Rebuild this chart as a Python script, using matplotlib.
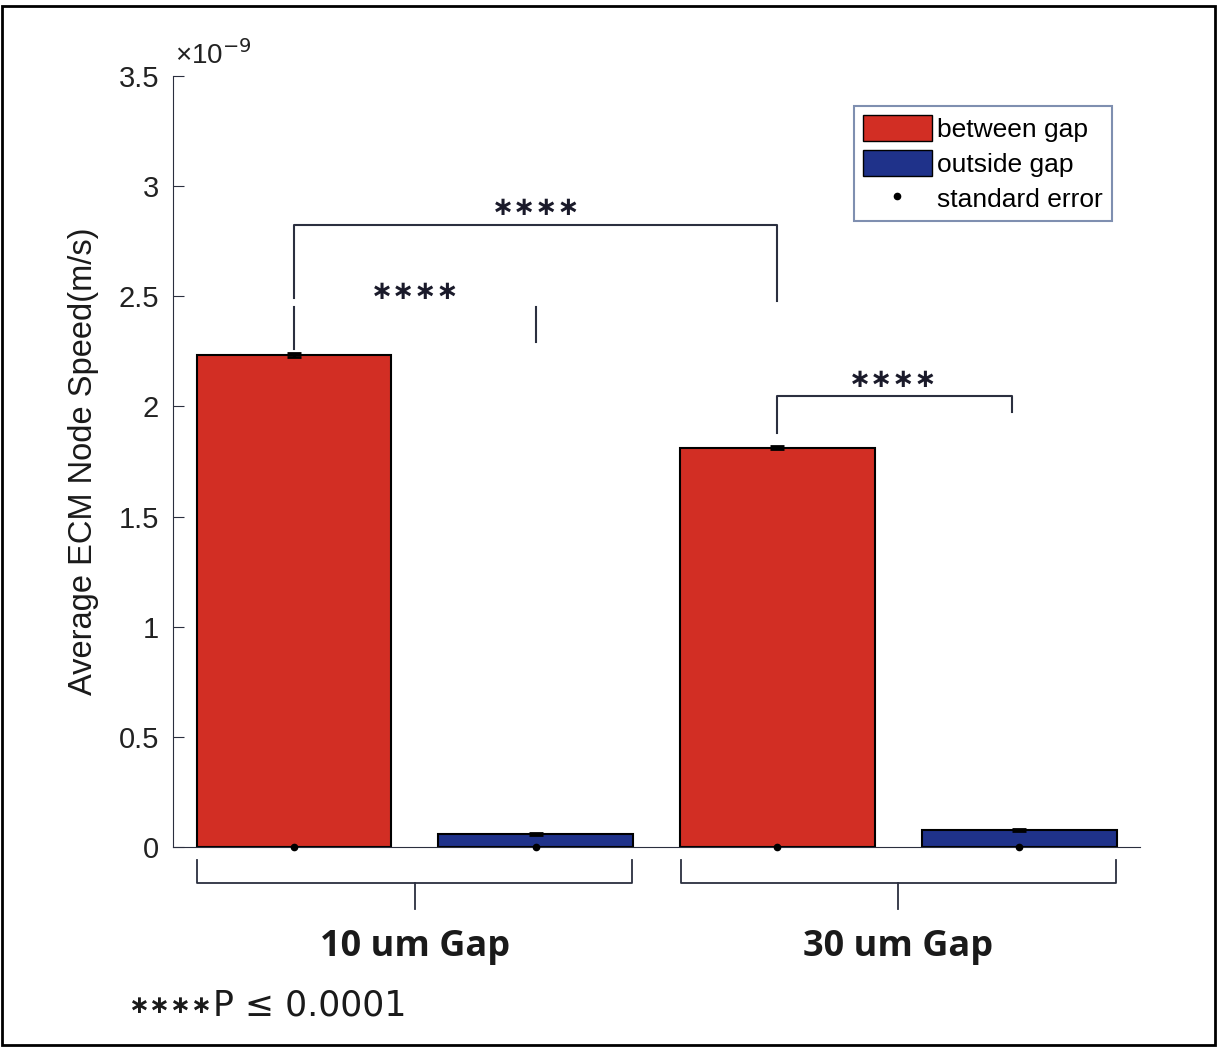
import matplotlib.pyplot as plt
import numpy as np
from matplotlib.patches import Patch, Rectangle
from matplotlib.lines import Line2D
from matplotlib.ticker import FuncFormatter

groups = ["10 um Gap", "30 um Gap"]
between = [2.234e-9, 1.812e-9]
outside = [0.059e-9, 0.077e-9]
between_se = [0.010e-9, 0.006e-9]
outside_se = [0.004e-9, 0.004e-9]

RED = "#d22e24"
BLUE = "#1f328a"
LINE = "#2b2f3f"

fig = plt.figure(figsize=(12.17, 10.49), dpi=100)
ax = fig.add_axes([0.1422, 0.1926, 0.7945, 0.735])

x = np.arange(1, 5)
heights = [between[0], outside[0], between[1], outside[1]]
errs = [between_se[0], outside_se[0], between_se[1], outside_se[1]]
colors = [RED, BLUE, RED, BLUE]
ax.bar(x, heights, width=0.806, color=colors, edgecolor="black", linewidth=1.5)
ax.errorbar(x, heights, yerr=errs, fmt="none", ecolor="black", capsize=5,
            elinewidth=2, capthick=2)
ax.plot(x, np.zeros(4), ".", color="black", markersize=9, clip_on=False, zorder=5)

ax.set_xlim(0.5, 4.5)
ax.set_ylim(0, 3.5e-9)
ax.set_yticks(np.arange(0, 3.51, 0.5) * 1e-9)
ax.yaxis.set_major_formatter(FuncFormatter(lambda v, p: f"{v * 1e9:g}"))
ax.text(0.002, 1.008, "\u00d710$^{-9}$", transform=ax.transAxes, ha="left", va="bottom",
        fontsize=20, family="Liberation Sans", color="#222222")
ax.set_xticks([])
ax.spines["top"].set_visible(False)
ax.spines["right"].set_visible(False)
ax.spines["left"].set_color(LINE)
ax.spines["bottom"].set_color(LINE)
ax.tick_params(axis="y", direction="in", length=8, labelsize=21, colors=LINE,
               labelcolor="#222222", pad=10)
for lab in ax.get_yticklabels():
    lab.set_family("Liberation Sans")
ax.set_ylabel("Average ECM Node Speed(m/s)", fontsize=23.5, family="Liberation Sans",
              labelpad=14, color="#1a1a1a")

s = 1e-9
star = "\u2217\u2217\u2217\u2217"
star_kw = dict(ha="center", va="center", fontsize=19, fontweight="bold",
               family="DejaVu Sans", color="#1a1a2a")
# 10 um between vs 30 um between
ax.plot([1, 1, 3, 3], [2.49 * s, 2.825 * s, 2.825 * s, 2.48 * s], color=LINE, lw=1.5)
ax.text(2.0, 2.9 * s, star, **star_kw)
# between vs outside, 10 um
ax.plot([1, 1], [2.26 * s, 2.45 * s], color=LINE, lw=1.5)
ax.plot([2, 2], [2.29 * s, 2.45 * s], color=LINE, lw=1.5)
ax.text(1.5, 2.52 * s, star, **star_kw)
# between vs outside, 30 um
ax.plot([3, 3, 3.97, 3.97], [1.88 * s, 2.048 * s, 2.048 * s, 1.975 * s], color=LINE, lw=1.5)
ax.text(3.48, 2.12 * s, star, **star_kw)

# group braces below the axis
for i, name in enumerate(groups):
    left = 1 + 2 * i - 0.4
    right = 2 + 2 * i + 0.4
    mid = (left + right) / 2
    ax.plot([left, left, right, right], [-0.06 * s, -0.163 * s, -0.163 * s, -0.06 * s],
            color=LINE, lw=1.3, clip_on=False)
    ax.plot([mid, mid], [-0.163 * s, -0.28 * s], color=LINE, lw=1.3, clip_on=False)
    ax.text(mid, -0.455 * s, name, ha="center", va="center", fontsize=26,
            fontweight="bold", family=["Open Sans", "DejaVu Sans"], color="#1a1a1a")

note_stars = fig.text(0.105, 0.041, star, ha="left", va="center", fontsize=18,
                      fontweight="bold", family="DejaVu Sans", color="#1a1a1a")
ax.annotate("P \u2264 0.0001", xy=(1, 0.5), xycoords=note_stars, xytext=(1, 0),
            textcoords="offset points", ha="left", va="center", fontsize=25,
            family="DejaVu Sans", color="#1a1a1a", annotation_clip=False)

handles = [Patch(facecolor=RED, edgecolor="black", label="between gap"),
           Patch(facecolor=BLUE, edgecolor="black", label="outside gap"),
           Line2D([], [], marker=".", color="black", linestyle="none", markersize=9,
                  label="standard error")]
leg = ax.legend(handles=handles, loc="upper right", bbox_to_anchor=(0.971, 0.961),
                prop={"family": "Liberation Sans", "size": 19},
                handlelength=2.6, handleheight=1.15, handletextpad=0.2,
                labelspacing=0.3, borderpad=0.35, borderaxespad=0, fancybox=False,
                framealpha=1)
leg.get_frame().set_edgecolor("#7f8fb0")
leg.get_frame().set_linewidth(1.5)

fig.patches.append(Rectangle((0.002, 0.004), 0.996, 0.99, transform=fig.transFigure,
                             fill=False, edgecolor="black", linewidth=2))

fig.savefig("out.png", dpi=100)
